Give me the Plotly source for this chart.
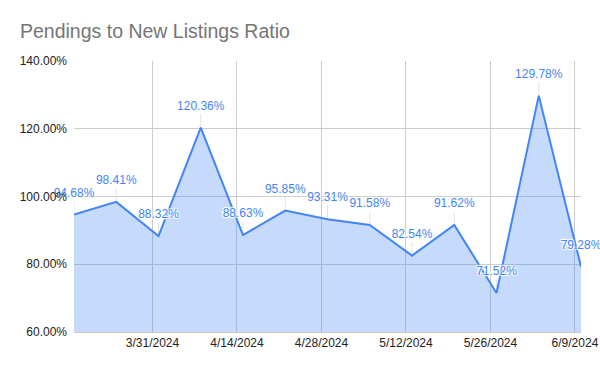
import plotly.graph_objects as go

dates = ["2024-03-18", "2024-03-25", "2024-04-01", "2024-04-08", "2024-04-15",
         "2024-04-22", "2024-04-29", "2024-05-06", "2024-05-13", "2024-05-20",
         "2024-05-27", "2024-06-03", "2024-06-10"]
ratios = [94.68, 98.41, 88.32, 120.36, 88.63, 95.85, 93.31, 91.58, 82.54,
          91.62, 71.52, 129.78, 79.28]
labels = [f"{v:.2f}%" for v in ratios]

x_tick_vals = ["2024-03-31", "2024-04-14", "2024-04-28", "2024-05-12",
               "2024-05-26", "2024-06-09"]
x_tick_text = ["3/31/2024", "4/14/2024", "4/28/2024", "5/12/2024",
               "5/26/2024", "6/9/2024"]
y_tick_vals = [60, 80, 100, 120, 140]
y_tick_text = ["60.00%", "80.00%", "100.00%", "120.00%", "140.00%"]

blue = "#4285F4"
font_family = "Liberation Sans, Arial, sans-serif"
halo = ("1px 1px 1px white, -1px -1px 1px white, 1px -1px 1px white, "
        "-1px 1px 1px white")

fig = go.Figure()
fig.add_trace(go.Scatter(
    x=dates, y=ratios,
    mode="lines+markers+text",
    line=dict(color=blue, width=2),
    fill="tozeroy",
    fillcolor="rgba(66,133,244,0.3)",
    marker=dict(size=22, color="rgba(0,0,0,0)"),
    text=labels,
    textposition="top center",
    textfont=dict(family=font_family, size=12, color=blue, shadow=halo),
    error_y=dict(type="data", symmetric=False, array=[4.0] * len(ratios),
                 arrayminus=[0] * len(ratios), color="rgba(220,220,220,0.8)",
                 thickness=1, width=0),
    cliponaxis=False,
    hoverinfo="skip",
))

fig.update_layout(
    width=600, height=371,
    margin=dict(l=74, r=19, t=61, b=39, autoexpand=False),
    paper_bgcolor="white", plot_bgcolor="white",
    showlegend=False,
    title=dict(text="Pendings to New Listings Ratio",
               font=dict(family=font_family, size=19.5, color="#757575"),
               x=20 / 600, xanchor="left", xref="container",
               y=1 - 31 / 371, yanchor="middle", automargin=False),
    xaxis=dict(type="date", range=["2024-03-18", "2024-06-10"],
               tickvals=x_tick_vals, ticktext=x_tick_text,
               showgrid=True, gridcolor="#cccccc", gridwidth=1,
               showline=True, linecolor="#cccccc", linewidth=1,
               ticks="", zeroline=False, automargin=False,
               tickfont=dict(family=font_family, size=12, color="#222222")),
    yaxis=dict(range=[60, 140], tickvals=y_tick_vals, ticktext=y_tick_text,
               showgrid=True, gridcolor="#cccccc", gridwidth=1,
               zeroline=False, showline=False, ticks="", automargin=False,
               ticklabelstandoff=6,
               tickfont=dict(family=font_family, size=12, color="#222222")),
)

fig.write_html(
    "out.html",
    config={"displayModeBar": False, "staticPlot": True},
    post_script="document.body.style.margin='0';document.body.style.overflow='hidden';",
)
